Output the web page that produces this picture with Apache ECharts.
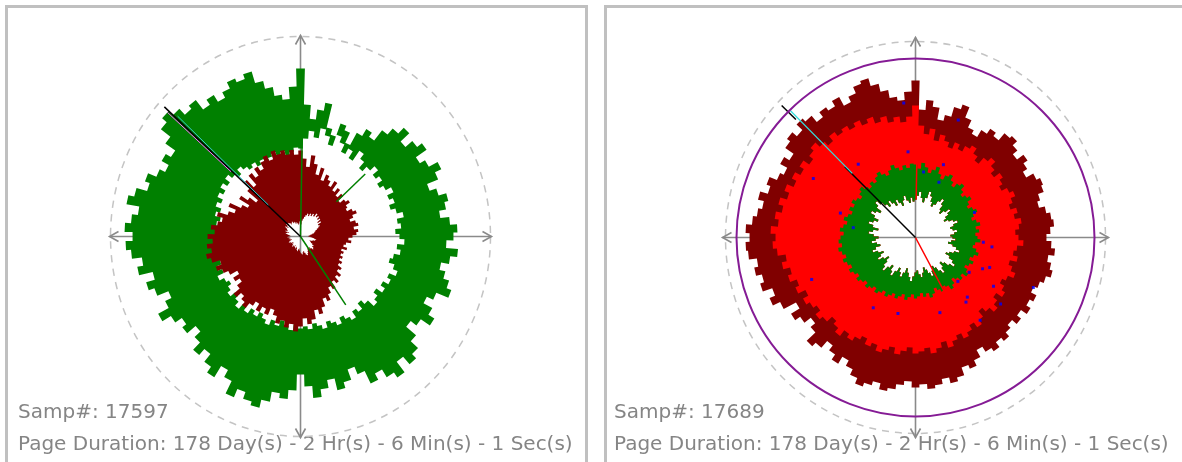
<!DOCTYPE html>
<html>
<head>
<meta charset="utf-8">
<script src="https://cdn.jsdelivr.net/npm/echarts@6/dist/echarts.min.js"></script>
<style>
  html, body { margin: 0; padding: 0; background: #ffffff; }
  #chart { width: 1182px; height: 462px; }
</style>
</head>
<body>
<div id="chart"></div>
<script>
// Angular bin width in degrees (120 bins round the dial, bin 0 centred on "up").
const BIN_DEG = 3;

// ---- Left dial: band envelopes per bin (radial units, 0 = centre) ----
const leftGreenOuter = [
  168, 132, 118, 128, 136, 112, 106, 120, 115, 104,
  118, 126, 121, 134, 142, 150, 138, 147, 153, 140,
  146, 156, 149, 137, 144, 152, 148, 141, 150, 157,
  153, 146, 158, 151, 143, 149, 155, 160, 147, 140,
  150, 157, 146, 139, 152, 162, 168, 158, 171, 165,
  156, 163, 149, 141, 152, 158, 146, 154, 162, 150,
  138, 154, 163, 158, 168, 176, 172, 165, 174, 160,
  152, 165, 158, 148, 156, 146, 138, 149, 144, 152,
  162, 150, 143, 155, 161, 152, 166, 160, 170, 175,
  168, 176, 170, 164, 177, 171, 160, 165, 156, 150,
  158, 152, 164, 176, 182, 176, 168, 172, 160, 166,
  158, 164, 171, 167, 172, 160, 152, 143, 138, 150
];
const leftGreenInner = [
  88, 98, 106, 100, 110, 104, 96, 108, 102, 94,
  100, 92, 104, 98, 90, 96, 102, 95, 99, 93,
  97, 103, 96, 100, 94, 99, 105, 98, 101, 95,
  99, 104, 97, 101, 95, 92, 98, 103, 96, 100,
  94, 99, 92, 97, 101, 93, 88, 95, 91, 98,
  94, 90, 96, 92, 89, 95, 91, 88, 93, 90,
  92, 88, 94, 90, 86, 92, 88, 94, 90, 86,
  91, 87, 93, 89, 95, 90, 86, 92, 88, 84,
  87, 92, 85, 89, 84, 80, 85, 78, 83, 80,
  78, 84, 80, 85, 82, 88, 84, 90, 86, 92,
  88, 94, 89, 95, 90, 86, 92, 88, 84, 87,
  82, 86, 80, 85, 88, 83, 87, 81, 85, 89
];
const leftRedOuter = [
  86, 78, 70, 82, 74, 64, 72, 60, 67, 63,
  58, 65, 56, 61, 54, 59, 52, 57, 60, 55,
  53, 58, 61, 56, 52, 57, 59, 54, 58, 56,
  52, 48, 51, 46, 44, 48, 43, 46, 44, 47,
  45, 49, 47, 52, 50, 56, 53, 59, 55, 62,
  58, 64, 70, 66, 74, 80, 75, 84, 88, 82,
  90, 95, 88, 92, 86, 90, 83, 78, 85, 80,
  86, 79, 84, 90, 86, 82, 88, 80, 74, 79,
  72, 80, 85, 90, 84, 92, 96, 90, 94, 88,
  93, 86, 90, 84, 80, 86, 76, 70, 78, 66,
  60, 72, 64, 56, 70, 78, 68, 80, 74, 82,
  77, 84, 88, 82, 90, 85, 88, 83, 87, 82
];
const leftRedInner = [
  14, 12, 16, 18, 20, 22, 24, 22, 25, 23,
  26, 24, 28, 25, 27, 24, 26, 22, 25, 21,
  22, 20, 18, 16, 15, 14, 12, 10, 9, 8,
  8, 10, 12, 14, 16, 15, 13, 12, 10, 11,
  12, 14, 16, 15, 17, 18, 16, 14, 15, 13,
  14, 16, 18, 20, 19, 17, 15, 16, 18, 17,
  16, 14, 12, 13, 15, 14, 12, 11, 13, 12,
  10, 12, 11, 13, 12, 10, 11, 9, 10, 12,
  11, 13, 12, 10, 9, 11, 12, 10, 11, 13,
  12, 10, 11, 13, 15, 14, 12, 16, 14, 15,
  16, 18, 15, 17, 19, 16, 18, 17, 15, 16,
  17, 15, 16, 14, 15, 13, 14, 12, 13, 15
];

// ---- Right dial ----
const rightDarkOuter = [
  157, 128, 138, 132, 120, 126, 136, 141, 130, 122,
  118, 126, 132, 128, 137, 140, 134, 128, 136, 131,
  126, 134, 138, 136, 130, 127, 133, 137, 139, 135,
  131, 136, 140, 134, 138, 141, 136, 132, 128, 134,
  130, 135, 128, 133, 127, 131, 136, 132, 138, 134,
  128, 136, 142, 138, 146, 150, 144, 149, 152, 147,
  150, 144, 148, 153, 156, 150, 154, 158, 152, 146,
  140, 148, 142, 136, 145, 150, 138, 132, 140, 146,
  136, 150, 158, 152, 162, 158, 164, 160, 168, 170,
  166, 170, 164, 160, 156, 162, 154, 158, 150, 146,
  154, 148, 158, 162, 156, 164, 160, 152, 158, 154,
  160, 150, 156, 163, 166, 158, 150, 142, 138, 146
];
const rightRedOuter = [
  132, 112, 104, 110, 99, 106, 101, 96, 103, 98,
  104, 108, 102, 97, 105, 110, 104, 99, 106, 102,
  98, 104, 108, 103, 99, 105, 101, 107, 104, 100,
  103, 108, 102, 99, 104, 97, 101, 106, 100, 96,
  101, 105, 98, 103, 108, 102, 97, 104, 109, 103,
  108, 112, 106, 110, 115, 108, 113, 117, 111, 114,
  116, 110, 114, 118, 112, 116, 120, 114, 118, 112,
  116, 121, 117, 124, 119, 115, 122, 126, 120, 124,
  128, 122, 130, 126, 133, 129, 136, 131, 139, 143,
  140, 145, 138, 142, 136, 141, 134, 139, 132, 137,
  131, 136, 129, 134, 138, 132, 127, 133, 128, 131,
  126, 130, 124, 128, 121, 125, 118, 122, 116, 121
];
const rightGreenOuter = [
  73, 69, 75, 71, 66, 70, 74, 68, 64, 69,
  72, 67, 63, 68, 71, 66, 62, 65, 68, 63,
  60, 64, 67, 62, 59, 63, 66, 61, 64, 60,
  62, 65, 60, 58, 62, 65, 61, 58, 63, 60,
  57, 61, 64, 59, 62, 58, 55, 60, 63, 58,
  56, 60, 57, 54, 59, 62, 57, 60, 56, 59,
  61, 57, 60, 63, 58, 61, 64, 60, 63, 66,
  62, 65, 68, 64, 67, 70, 66, 69, 72, 68,
  71, 74, 70, 73, 76, 72, 75, 78, 74, 77,
  75, 72, 76, 73, 70, 74, 71, 68, 72, 69,
  73, 70, 67, 71, 74, 70, 67, 71, 68, 72,
  75, 71, 68, 72, 76, 72, 69, 73, 70, 74
];
const rightHole = [
  38, 42, 46, 40, 36, 41, 48, 44, 39, 35,
  38, 43, 47, 42, 37, 34, 39, 44, 40, 36,
  33, 37, 41, 45, 40, 36, 38, 42, 39, 35,
  37, 40, 36, 33, 38, 42, 46, 41, 37, 34,
  39, 44, 48, 43, 38, 35, 40, 45, 41, 36,
  33, 37, 42, 38, 34, 31, 36, 40, 37, 33,
  35, 39, 44, 40, 36, 32, 37, 42, 38, 34,
  39, 45, 41, 36, 40, 46, 42, 37, 33, 38,
  43, 39, 35, 40, 45, 41, 36, 39, 44, 40,
  37, 42, 47, 43, 38, 44, 49, 45, 41, 46,
  51, 47, 43, 49, 53, 48, 44, 40, 45, 41,
  37, 42, 38, 34, 39, 43, 38, 35, 40, 36
];

// Single-sample pointer strokes: [angle deg, from radius, to radius]
const leftBlackNeedle   = [[313.6, 0, 188]];
const leftCyanNeedle    = [[314.4, 45, 172]];
const leftPinkNeedle    = [[313.0, 95, 182]];
const leftGreenNeedles  = [[146.5, 0, 82], [1, 0, 100], [46, 50, 90]];
const rightBlackNeedle  = [[315, 0, 100], [314.6, 168, 188]];
const rightCyanNeedle   = [[315.4, 90, 178]];
const rightRedNeedles   = [[152, 0, 72], [1, 38, 100]];

// Isolated samples on the right dial: [radius, angle deg]
const rightBlueDots = [
  [86, 355], [93, 322], [78, 21], [66, 7], [60, 23], [64, 67], [68, 94],
  [77, 97], [74, 115], [64, 123], [80, 112], [92, 122], [79, 139], [61, 136],
  [82, 142], [79, 162], [78, 193], [82, 211], [63, 279], [79, 288],
  [108, 128], [128, 113], [105, 142], [112, 248], [118, 300], [125, 20], [135, 355]
];

// Alarm limit ring on the right dial
const rightLimit = [[179]];

// Crosshair arms: [direction deg, reach]
const leftArms  = [[0, 201], [90, 191], [180, 201], [270, 191]];
const rightArms = [[0, 200], [90, 193], [180, 200], [270, 193]];
// Dashed outer rim: [horizontal reach, vertical reach]
const leftRim  = [[190, 200]];
const rightRim = [[190, 196]];

const SCALE_MAX = 205;

const sampleNumbers = ['17597', '17689'];
const durationText = 'Page Duration: 178 Day(s) - 2 Hr(s) - 6 Min(s) - 1 Sec(s)';

// ---------------------------------------------------------------------------
const HALF = BIN_DEG / 2;

function bandData(inner, outer) {
  return outer.map((v, i) => [i * BIN_DEG, inner[i], v]);
}

// One filled ring-shaped outline per band. Each bin contributes a flat step at its
// own radius on both edges; the outer edge runs clockwise and the inner edge back
// anticlockwise, joined along a zero-width slit so the hole stays unpainted.
function bandShape(color) {
  return function (params, api) {
    if (params.dataIndexInside !== 0) return null;
    const n = params.dataInsideLength;
    const outer = [], inner = [];
    for (let i = 0; i < n; i++) {
      const a = api.value(0, i);
      const ro = api.value(2, i), ri = api.value(1, i);
      outer.push(api.coord([ro, a - HALF]), api.coord([ro, a + HALF]));
      inner.push(api.coord([ri, a - HALF]), api.coord([ri, a + HALF]));
    }
    const pts = outer.concat([outer[0], inner[0]], inner.slice().reverse());
    return { type: 'polygon', shape: { points: pts }, style: { fill: color } };
  };
}

function needle(color, width) {
  return function (params, api) {
    const a = api.value(0);
    const p0 = api.coord([api.value(1), a]);
    const p1 = api.coord([api.value(2), a]);
    return {
      type: 'line',
      shape: { x1: p0[0], y1: p0[1], x2: p1[0], y2: p1[1] },
      style: { stroke: color, lineWidth: width }
    };
  };
}

function crossArm(params, api) {
  const cs = params.coordSys;
  const a = api.value(0);
  const tip = api.coord([api.value(1), a]);
  const dx = tip[0] - cs.cx, dy = tip[1] - cs.cy;
  const L = Math.hypot(dx, dy);
  const ux = dx / L, uy = dy / L;
  const hl = 9, hw = 5;
  const bx = tip[0] - ux * hl, by = tip[1] - uy * hl;
  const st = { stroke: '#8a8a8a', lineWidth: 1.6, fill: null };
  return {
    type: 'group',
    children: [
      { type: 'line', shape: { x1: cs.cx, y1: cs.cy, x2: tip[0], y2: tip[1] }, style: st },
      { type: 'polyline', shape: { points: [[bx - uy * hw, by + ux * hw], tip, [bx + uy * hw, by - ux * hw]] }, style: st }
    ]
  };
}

// Dashed oval rim: a circle at the horizontal reach, stretched to the vertical reach.
function rimOval(params, api) {
  const cs = params.coordSys;
  const ph = api.coord([api.value(0), 90]);
  const pv = api.coord([api.value(1), 0]);
  const rx = Math.hypot(ph[0] - cs.cx, ph[1] - cs.cy);
  const ry = Math.hypot(pv[0] - cs.cx, pv[1] - cs.cy);
  return {
    type: 'circle',
    x: cs.cx, y: cs.cy, scaleX: 1, scaleY: ry / rx,
    shape: { cx: 0, cy: 0, r: rx },
    style: { fill: null, stroke: '#c4c4c4', lineWidth: 1.5, lineDash: [7, 6], strokeNoScale: true }
  };
}

function limitRing(params, api) {
  const cs = params.coordSys;
  const p = api.coord([api.value(0), 0]);
  const r = Math.hypot(p[0] - cs.cx, p[1] - cs.cy);
  return {
    type: 'circle',
    shape: { cx: cs.cx, cy: cs.cy, r: r },
    style: { fill: null, stroke: '#851b95', lineWidth: 2 }
  };
}

function angleAxisFor(i) {
  return {
    polarIndex: i, type: 'value', min: 0, max: 360, startAngle: 90, clockwise: true,
    axisLine: { show: false }, axisTick: { show: false }, axisLabel: { show: false },
    splitLine: { show: false }, splitArea: { show: false }
  };
}
function radiusAxisFor(i) {
  return {
    polarIndex: i, type: 'value', min: 0, max: SCALE_MAX,
    axisLine: { show: false }, axisTick: { show: false }, axisLabel: { show: false },
    splitLine: { show: false }, splitArea: { show: false }
  };
}

function custom(polarIndex, data, renderItem, z) {
  return { type: 'custom', coordinateSystem: 'polar', polarIndex, data, renderItem, z, silent: true, animation: false };
}

const textStyle = (t) => ({ text: t, fontSize: 20, fontFamily: '"DejaVu Sans"', fill: '#858585', verticalAlign: 'middle' });

const option = {
  animation: false,
  backgroundColor: '#ffffff',
  polar: [
    { center: [300.5, 236.5], radius: SCALE_MAX },
    { center: [915.5, 237.5], radius: SCALE_MAX }
  ],
  angleAxis: [angleAxisFor(0), angleAxisFor(1)],
  radiusAxis: [radiusAxisFor(0), radiusAxisFor(1)],
  series: [
    // left dial
    custom(0, leftRim, rimOval, 1),
    custom(0, leftArms, crossArm, 1),
    custom(0, bandData(leftGreenInner, leftGreenOuter), bandShape('#008000'), 2),
    custom(0, bandData(leftRedInner, leftRedOuter), bandShape('#800000'), 3),
    custom(0, leftGreenNeedles, needle('#008000', 1.5), 4),
    custom(0, leftBlackNeedle, needle('#000000', 1.5), 4),
    custom(0, leftPinkNeedle, needle('#ff66ff', 1), 5),
    custom(0, leftCyanNeedle, needle('#33cccc', 1), 5),
    // right dial
    custom(1, rightRim, rimOval, 1),
    custom(1, rightArms, crossArm, 1),
    custom(1, bandData(rightHole, rightDarkOuter), bandShape('#800000'), 2),
    custom(1, bandData(rightHole, rightRedOuter), bandShape('#ff0000'), 3),
    custom(1, bandData(rightHole, rightGreenOuter), bandShape('#008000'), 4),
    custom(1, rightRedNeedles, needle('#ff0000', 1.5), 5),
    custom(1, rightBlackNeedle, needle('#000000', 1.5), 5),
    custom(1, rightCyanNeedle, needle('#33dddd', 1.2), 6),
    {
      type: 'scatter', coordinateSystem: 'polar', polarIndex: 1, data: rightBlueDots,
      symbol: 'rect', symbolSize: 3, itemStyle: { color: '#0000ff' }, z: 6, silent: true, animation: false
    },
    custom(1, rightLimit, limitRing, 7)
  ],
  graphic: [
    { type: 'rect', shape: { x: 6.5, y: 6.5, width: 580, height: 480 }, style: { fill: null, stroke: '#c0c0c0', lineWidth: 3 }, silent: true },
    { type: 'rect', shape: { x: 605.5, y: 6.5, width: 620, height: 480 }, style: { fill: null, stroke: '#c0c0c0', lineWidth: 3 }, silent: true },
    { type: 'text', x: 18, y: 413, style: textStyle('Samp#: ' + sampleNumbers[0]), silent: true },
    { type: 'text', x: 18, y: 445, style: textStyle(durationText), silent: true },
    { type: 'text', x: 614, y: 413, style: textStyle('Samp#: ' + sampleNumbers[1]), silent: true },
    { type: 'text', x: 614, y: 445, style: textStyle(durationText), silent: true }
  ]
};

const chart = echarts.init(document.getElementById('chart'), null, { renderer: 'canvas' });
chart.setOption(option);
</script>
</body>
</html>
